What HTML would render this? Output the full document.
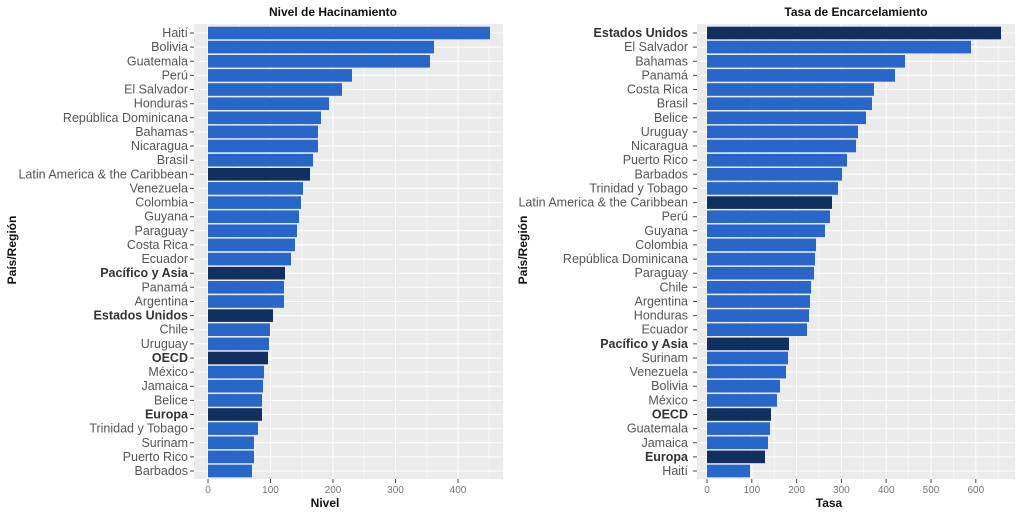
<!DOCTYPE html>
<html><head><meta charset="utf-8"><style>
body{margin:0;background:#fff}
svg{display:block;font-family:"Liberation Sans",sans-serif}
.b{fill:#2866c9}.d{fill:#11305f}
.l{font-size:12.5px;fill:#555;text-anchor:end}
.k{font-weight:bold;fill:#333}
.x{font-size:10px;fill:#777;text-anchor:middle}
.t{font-size:12px;font-weight:bold;fill:#111;text-anchor:middle}
.g line{stroke:#fff}
.tk{stroke:#444;stroke-width:1;fill:none}
</style></head><body>
<svg width="1024" height="513" viewBox="0 0 1024 513">
<!-- LEFT -->
<rect x="194" y="24" width="309" height="455" fill="#ebebeb"/>
<g class="g">
<line x1="239" y1="24" x2="239" y2="479" stroke-width=".5"/><line x1="302" y1="24" x2="302" y2="479" stroke-width=".5"/><line x1="364" y1="24" x2="364" y2="479" stroke-width=".5"/><line x1="427" y1="24" x2="427" y2="479" stroke-width=".5"/><line x1="489" y1="24" x2="489" y2="479" stroke-width=".5"/>
<line x1="208" y1="24" x2="208" y2="479"/><line x1="270.5" y1="24" x2="270.5" y2="479"/><line x1="333" y1="24" x2="333" y2="479"/><line x1="395.5" y1="24" x2="395.5" y2="479"/><line x1="458" y1="24" x2="458" y2="479"/>
</g>
<path class="tk" d="M190 33h4M190 47.1h4M190 61.3h4M190 75.4h4M190 89.5h4M190 103.7h4M190 117.8h4M190 131.9h4M190 146h4M190 160.2h4M190 174.3h4M190 188.4h4M190 202.6h4M190 216.7h4M190 230.8h4M190 244.9h4M190 259.1h4M190 273.2h4M190 287.3h4M190 301.5h4M190 315.6h4M190 329.7h4M190 343.9h4M190 358h4M190 372.1h4M190 386.2h4M190 400.4h4M190 414.5h4M190 428.6h4M190 442.8h4M190 456.9h4M190 471h4M208 479v4M270.5 479v4M333 479v4M395.5 479v4M458 479v4"/>
<text class="t" x="333" y="16">Nivel de Hacinamiento</text>
<text class="t" x="325" y="507">Nivel</text>
<text class="t" transform="translate(16,250) rotate(-90)">País/Región</text>
<g class="x"><text x="208" y="493">0</text><text x="270.5" y="493">100</text><text x="333" y="493">200</text><text x="395.5" y="493">300</text><text x="458" y="493">400</text></g>
<g>
<g transform="translate(0,33)"><line x1="194" x2="503" stroke="#fff"/><rect class="b" x="208" y="-6.3" width="282" height="12.6"/><text class="l" x="188" y="4">Haití</text></g>
<g transform="translate(0,47.1)"><line x1="194" x2="503" stroke="#fff"/><rect class="b" x="208" y="-6.3" width="226" height="12.6"/><text class="l" x="188" y="4">Bolivia</text></g>
<g transform="translate(0,61.3)"><line x1="194" x2="503" stroke="#fff"/><rect class="b" x="208" y="-6.3" width="222" height="12.6"/><text class="l" x="188" y="4">Guatemala</text></g>
<g transform="translate(0,75.4)"><line x1="194" x2="503" stroke="#fff"/><rect class="b" x="208" y="-6.3" width="144" height="12.6"/><text class="l" x="188" y="4">Perú</text></g>
<g transform="translate(0,89.5)"><line x1="194" x2="503" stroke="#fff"/><rect class="b" x="208" y="-6.3" width="134" height="12.6"/><text class="l" x="188" y="4">El Salvador</text></g>
<g transform="translate(0,103.7)"><line x1="194" x2="503" stroke="#fff"/><rect class="b" x="208" y="-6.3" width="121" height="12.6"/><text class="l" x="188" y="4">Honduras</text></g>
<g transform="translate(0,117.8)"><line x1="194" x2="503" stroke="#fff"/><rect class="b" x="208" y="-6.3" width="113" height="12.6"/><text class="l" x="188" y="4">República Dominicana</text></g>
<g transform="translate(0,131.9)"><line x1="194" x2="503" stroke="#fff"/><rect class="b" x="208" y="-6.3" width="110" height="12.6"/><text class="l" x="188" y="4">Bahamas</text></g>
<g transform="translate(0,146)"><line x1="194" x2="503" stroke="#fff"/><rect class="b" x="208" y="-6.3" width="110" height="12.6"/><text class="l" x="188" y="4">Nicaragua</text></g>
<g transform="translate(0,160.2)"><line x1="194" x2="503" stroke="#fff"/><rect class="b" x="208" y="-6.3" width="105" height="12.6"/><text class="l" x="188" y="4">Brasil</text></g>
<g transform="translate(0,174.3)"><line x1="194" x2="503" stroke="#fff"/><rect class="d" x="208" y="-6.3" width="102" height="12.6"/><text class="l" x="188" y="4">Latin America &amp; the Caribbean</text></g>
<g transform="translate(0,188.4)"><line x1="194" x2="503" stroke="#fff"/><rect class="b" x="208" y="-6.3" width="95" height="12.6"/><text class="l" x="188" y="4">Venezuela</text></g>
<g transform="translate(0,202.6)"><line x1="194" x2="503" stroke="#fff"/><rect class="b" x="208" y="-6.3" width="93" height="12.6"/><text class="l" x="188" y="4">Colombia</text></g>
<g transform="translate(0,216.7)"><line x1="194" x2="503" stroke="#fff"/><rect class="b" x="208" y="-6.3" width="91" height="12.6"/><text class="l" x="188" y="4">Guyana</text></g>
<g transform="translate(0,230.8)"><line x1="194" x2="503" stroke="#fff"/><rect class="b" x="208" y="-6.3" width="89" height="12.6"/><text class="l" x="188" y="4">Paraguay</text></g>
<g transform="translate(0,244.9)"><line x1="194" x2="503" stroke="#fff"/><rect class="b" x="208" y="-6.3" width="87" height="12.6"/><text class="l" x="188" y="4">Costa Rica</text></g>
<g transform="translate(0,259.1)"><line x1="194" x2="503" stroke="#fff"/><rect class="b" x="208" y="-6.3" width="83" height="12.6"/><text class="l" x="188" y="4">Ecuador</text></g>
<g transform="translate(0,273.2)"><line x1="194" x2="503" stroke="#fff"/><rect class="d" x="208" y="-6.3" width="77" height="12.6"/><text class="l k" x="188" y="4">Pacífico y Asia</text></g>
<g transform="translate(0,287.3)"><line x1="194" x2="503" stroke="#fff"/><rect class="b" x="208" y="-6.3" width="76" height="12.6"/><text class="l" x="188" y="4">Panamá</text></g>
<g transform="translate(0,301.5)"><line x1="194" x2="503" stroke="#fff"/><rect class="b" x="208" y="-6.3" width="76" height="12.6"/><text class="l" x="188" y="4">Argentina</text></g>
<g transform="translate(0,315.6)"><line x1="194" x2="503" stroke="#fff"/><rect class="d" x="208" y="-6.3" width="65" height="12.6"/><text class="l k" x="188" y="4">Estados Unidos</text></g>
<g transform="translate(0,329.7)"><line x1="194" x2="503" stroke="#fff"/><rect class="b" x="208" y="-6.3" width="62" height="12.6"/><text class="l" x="188" y="4">Chile</text></g>
<g transform="translate(0,343.9)"><line x1="194" x2="503" stroke="#fff"/><rect class="b" x="208" y="-6.3" width="61" height="12.6"/><text class="l" x="188" y="4">Uruguay</text></g>
<g transform="translate(0,358)"><line x1="194" x2="503" stroke="#fff"/><rect class="d" x="208" y="-6.3" width="60" height="12.6"/><text class="l k" x="188" y="4">OECD</text></g>
<g transform="translate(0,372.1)"><line x1="194" x2="503" stroke="#fff"/><rect class="b" x="208" y="-6.3" width="56" height="12.6"/><text class="l" x="188" y="4">México</text></g>
<g transform="translate(0,386.2)"><line x1="194" x2="503" stroke="#fff"/><rect class="b" x="208" y="-6.3" width="55" height="12.6"/><text class="l" x="188" y="4">Jamaica</text></g>
<g transform="translate(0,400.4)"><line x1="194" x2="503" stroke="#fff"/><rect class="b" x="208" y="-6.3" width="54" height="12.6"/><text class="l" x="188" y="4">Belice</text></g>
<g transform="translate(0,414.5)"><line x1="194" x2="503" stroke="#fff"/><rect class="d" x="208" y="-6.3" width="54" height="12.6"/><text class="l k" x="188" y="4">Europa</text></g>
<g transform="translate(0,428.6)"><line x1="194" x2="503" stroke="#fff"/><rect class="b" x="208" y="-6.3" width="50" height="12.6"/><text class="l" x="188" y="4">Trinidad y Tobago</text></g>
<g transform="translate(0,442.8)"><line x1="194" x2="503" stroke="#fff"/><rect class="b" x="208" y="-6.3" width="46" height="12.6"/><text class="l" x="188" y="4">Surinam</text></g>
<g transform="translate(0,456.9)"><line x1="194" x2="503" stroke="#fff"/><rect class="b" x="208" y="-6.3" width="46" height="12.6"/><text class="l" x="188" y="4">Puerto Rico</text></g>
<g transform="translate(0,471)"><line x1="194" x2="503" stroke="#fff"/><rect class="b" x="208" y="-6.3" width="44" height="12.6"/><text class="l" x="188" y="4">Barbados</text></g>
</g>
<!-- RIGHT -->
<rect x="697" y="24" width="318" height="455" fill="#ebebeb"/>
<g class="g">
<line x1="729.4" y1="24" x2="729.4" y2="479" stroke-width=".5"/><line x1="774.2" y1="24" x2="774.2" y2="479" stroke-width=".5"/><line x1="819" y1="24" x2="819" y2="479" stroke-width=".5"/><line x1="863.8" y1="24" x2="863.8" y2="479" stroke-width=".5"/><line x1="908.6" y1="24" x2="908.6" y2="479" stroke-width=".5"/><line x1="953.4" y1="24" x2="953.4" y2="479" stroke-width=".5"/><line x1="998.2" y1="24" x2="998.2" y2="479" stroke-width=".5"/>
<line x1="707" y1="24" x2="707" y2="479"/><line x1="751.8" y1="24" x2="751.8" y2="479"/><line x1="796.6" y1="24" x2="796.6" y2="479"/><line x1="841.4" y1="24" x2="841.4" y2="479"/><line x1="886.2" y1="24" x2="886.2" y2="479"/><line x1="931" y1="24" x2="931" y2="479"/><line x1="975.8" y1="24" x2="975.8" y2="479"/>
</g>
<path class="tk" d="M693 33h4M693 47.1h4M693 61.3h4M693 75.4h4M693 89.5h4M693 103.7h4M693 117.8h4M693 131.9h4M693 146h4M693 160.2h4M693 174.3h4M693 188.4h4M693 202.6h4M693 216.7h4M693 230.8h4M693 244.9h4M693 259.1h4M693 273.2h4M693 287.3h4M693 301.5h4M693 315.6h4M693 329.7h4M693 343.9h4M693 358h4M693 372.1h4M693 386.2h4M693 400.4h4M693 414.5h4M693 428.6h4M693 442.8h4M693 456.9h4M693 471h4M707 479v4M751.8 479v4M796.6 479v4M841.4 479v4M886.2 479v4M931 479v4M975.8 479v4"/>
<text class="t" x="856" y="16">Tasa de Encarcelamiento</text>
<text class="t" x="829" y="507">Tasa</text>
<text class="t" transform="translate(527,250) rotate(-90)">País/Región</text>
<g class="x"><text x="707" y="493">0</text><text x="751.8" y="493">100</text><text x="796.6" y="493">200</text><text x="841.4" y="493">300</text><text x="886.2" y="493">400</text><text x="931" y="493">500</text><text x="975.8" y="493">600</text></g>
<g>
<g transform="translate(0,33)"><line x1="697" x2="1015" stroke="#fff"/><rect class="d" x="707" y="-6.3" width="294" height="12.6"/><text class="l k" x="688" y="4">Estados Unidos</text></g>
<g transform="translate(0,47.1)"><line x1="697" x2="1015" stroke="#fff"/><rect class="b" x="707" y="-6.3" width="264" height="12.6"/><text class="l" x="688" y="4">El Salvador</text></g>
<g transform="translate(0,61.3)"><line x1="697" x2="1015" stroke="#fff"/><rect class="b" x="707" y="-6.3" width="198" height="12.6"/><text class="l" x="688" y="4">Bahamas</text></g>
<g transform="translate(0,75.4)"><line x1="697" x2="1015" stroke="#fff"/><rect class="b" x="707" y="-6.3" width="188" height="12.6"/><text class="l" x="688" y="4">Panamá</text></g>
<g transform="translate(0,89.5)"><line x1="697" x2="1015" stroke="#fff"/><rect class="b" x="707" y="-6.3" width="167" height="12.6"/><text class="l" x="688" y="4">Costa Rica</text></g>
<g transform="translate(0,103.7)"><line x1="697" x2="1015" stroke="#fff"/><rect class="b" x="707" y="-6.3" width="165" height="12.6"/><text class="l" x="688" y="4">Brasil</text></g>
<g transform="translate(0,117.8)"><line x1="697" x2="1015" stroke="#fff"/><rect class="b" x="707" y="-6.3" width="159" height="12.6"/><text class="l" x="688" y="4">Belice</text></g>
<g transform="translate(0,131.9)"><line x1="697" x2="1015" stroke="#fff"/><rect class="b" x="707" y="-6.3" width="151" height="12.6"/><text class="l" x="688" y="4">Uruguay</text></g>
<g transform="translate(0,146)"><line x1="697" x2="1015" stroke="#fff"/><rect class="b" x="707" y="-6.3" width="149" height="12.6"/><text class="l" x="688" y="4">Nicaragua</text></g>
<g transform="translate(0,160.2)"><line x1="697" x2="1015" stroke="#fff"/><rect class="b" x="707" y="-6.3" width="140" height="12.6"/><text class="l" x="688" y="4">Puerto Rico</text></g>
<g transform="translate(0,174.3)"><line x1="697" x2="1015" stroke="#fff"/><rect class="b" x="707" y="-6.3" width="135" height="12.6"/><text class="l" x="688" y="4">Barbados</text></g>
<g transform="translate(0,188.4)"><line x1="697" x2="1015" stroke="#fff"/><rect class="b" x="707" y="-6.3" width="131" height="12.6"/><text class="l" x="688" y="4">Trinidad y Tobago</text></g>
<g transform="translate(0,202.6)"><line x1="697" x2="1015" stroke="#fff"/><rect class="d" x="707" y="-6.3" width="125" height="12.6"/><text class="l" x="688" y="4">Latin America &amp; the Caribbean</text></g>
<g transform="translate(0,216.7)"><line x1="697" x2="1015" stroke="#fff"/><rect class="b" x="707" y="-6.3" width="123" height="12.6"/><text class="l" x="688" y="4">Perú</text></g>
<g transform="translate(0,230.8)"><line x1="697" x2="1015" stroke="#fff"/><rect class="b" x="707" y="-6.3" width="118" height="12.6"/><text class="l" x="688" y="4">Guyana</text></g>
<g transform="translate(0,244.9)"><line x1="697" x2="1015" stroke="#fff"/><rect class="b" x="707" y="-6.3" width="109" height="12.6"/><text class="l" x="688" y="4">Colombia</text></g>
<g transform="translate(0,259.1)"><line x1="697" x2="1015" stroke="#fff"/><rect class="b" x="707" y="-6.3" width="108" height="12.6"/><text class="l" x="688" y="4">República Dominicana</text></g>
<g transform="translate(0,273.2)"><line x1="697" x2="1015" stroke="#fff"/><rect class="b" x="707" y="-6.3" width="107" height="12.6"/><text class="l" x="688" y="4">Paraguay</text></g>
<g transform="translate(0,287.3)"><line x1="697" x2="1015" stroke="#fff"/><rect class="b" x="707" y="-6.3" width="104" height="12.6"/><text class="l" x="688" y="4">Chile</text></g>
<g transform="translate(0,301.5)"><line x1="697" x2="1015" stroke="#fff"/><rect class="b" x="707" y="-6.3" width="103" height="12.6"/><text class="l" x="688" y="4">Argentina</text></g>
<g transform="translate(0,315.6)"><line x1="697" x2="1015" stroke="#fff"/><rect class="b" x="707" y="-6.3" width="102" height="12.6"/><text class="l" x="688" y="4">Honduras</text></g>
<g transform="translate(0,329.7)"><line x1="697" x2="1015" stroke="#fff"/><rect class="b" x="707" y="-6.3" width="100" height="12.6"/><text class="l" x="688" y="4">Ecuador</text></g>
<g transform="translate(0,343.9)"><line x1="697" x2="1015" stroke="#fff"/><rect class="d" x="707" y="-6.3" width="82" height="12.6"/><text class="l k" x="688" y="4">Pacífico y Asia</text></g>
<g transform="translate(0,358)"><line x1="697" x2="1015" stroke="#fff"/><rect class="b" x="707" y="-6.3" width="81" height="12.6"/><text class="l" x="688" y="4">Surinam</text></g>
<g transform="translate(0,372.1)"><line x1="697" x2="1015" stroke="#fff"/><rect class="b" x="707" y="-6.3" width="79" height="12.6"/><text class="l" x="688" y="4">Venezuela</text></g>
<g transform="translate(0,386.2)"><line x1="697" x2="1015" stroke="#fff"/><rect class="b" x="707" y="-6.3" width="73" height="12.6"/><text class="l" x="688" y="4">Bolivia</text></g>
<g transform="translate(0,400.4)"><line x1="697" x2="1015" stroke="#fff"/><rect class="b" x="707" y="-6.3" width="70" height="12.6"/><text class="l" x="688" y="4">México</text></g>
<g transform="translate(0,414.5)"><line x1="697" x2="1015" stroke="#fff"/><rect class="d" x="707" y="-6.3" width="64" height="12.6"/><text class="l k" x="688" y="4">OECD</text></g>
<g transform="translate(0,428.6)"><line x1="697" x2="1015" stroke="#fff"/><rect class="b" x="707" y="-6.3" width="63" height="12.6"/><text class="l" x="688" y="4">Guatemala</text></g>
<g transform="translate(0,442.8)"><line x1="697" x2="1015" stroke="#fff"/><rect class="b" x="707" y="-6.3" width="61" height="12.6"/><text class="l" x="688" y="4">Jamaica</text></g>
<g transform="translate(0,456.9)"><line x1="697" x2="1015" stroke="#fff"/><rect class="d" x="707" y="-6.3" width="58" height="12.6"/><text class="l k" x="688" y="4">Europa</text></g>
<g transform="translate(0,471)"><line x1="697" x2="1015" stroke="#fff"/><rect class="b" x="707" y="-6.3" width="43" height="12.6"/><text class="l" x="688" y="4">Haití</text></g>
</g>
</svg>
</body></html>
